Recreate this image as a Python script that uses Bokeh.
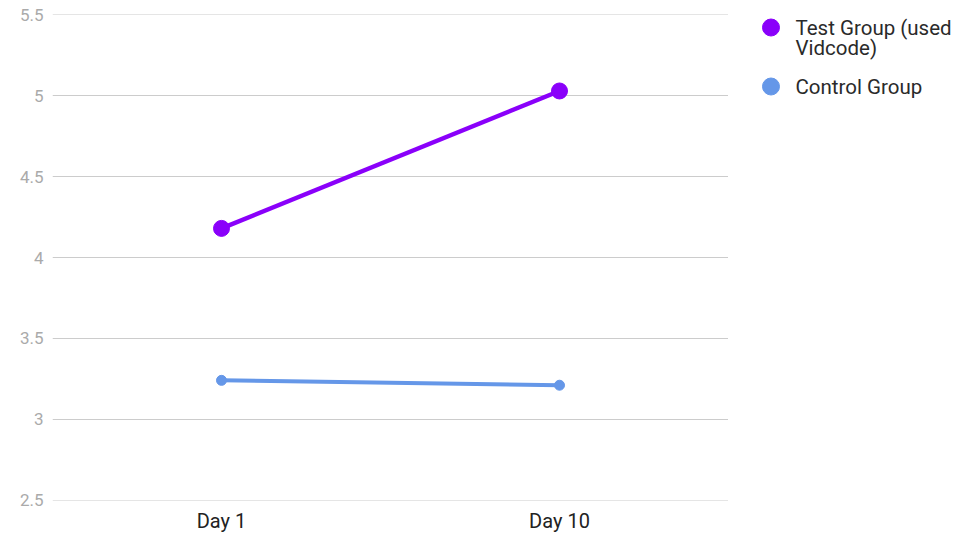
from bokeh.plotting import figure
from bokeh.models import FixedTicker, Range1d
from bokeh.layouts import row
from bokeh.core.properties import value
from bokeh.embed import file_html
from bokeh.resources import INLINE

days = ["Day 1", "Day 10"]
test_group = [4.18, 5.03]
control_group = [3.24, 3.21]
y_ticks = [2.5, 3, 3.5, 4, 4.5, 5, 5.5]
series_names = ["Test Group (used", "Vidcode)", "Control Group"]

TEST_COLOR = "#8a00fa"
CTRL_COLOR = "#6597e8"
FONT = "Roboto"

FRAME_TOP, FRAME_H = 14, 486

p = figure(x_range=days, y_range=(2.497, 5.503), frame_width=676, frame_height=FRAME_H,
           output_backend="svg", toolbar_location=None,
           min_border_left=52, min_border_top=FRAME_TOP, min_border_bottom=0, min_border_right=0)

p.line(days, test_group, line_color=TEST_COLOR, line_width=4.5)
p.scatter(days, test_group, size=16, fill_color=TEST_COLOR, line_color=TEST_COLOR)
p.line(days, control_group, line_color=CTRL_COLOR, line_width=4)
p.scatter(days, control_group, size=10, fill_color=CTRL_COLOR, line_color=CTRL_COLOR)

p.outline_line_color = None
p.xgrid.grid_line_color = None
p.ygrid.grid_line_color = "#cccccc"
p.ygrid.grid_line_width = 1
p.yaxis.ticker = FixedTicker(ticks=y_ticks)

for ax in (p.xaxis, p.yaxis):
    ax.axis_line_color = None
    ax.major_tick_line_color = None
    ax.minor_tick_line_color = None
    ax.major_tick_out = 0
    ax.major_tick_in = 0
    ax.minor_tick_out = 0

p.yaxis.major_label_text_color = "#aaaaaa"
p.yaxis.major_label_text_font = FONT
p.yaxis.major_label_text_font_size = "17px"
p.yaxis.major_label_standoff = 9

p.xaxis.major_label_text_color = "#222222"
p.xaxis.major_label_text_font = FONT
p.xaxis.major_label_text_font_size = "20px"
p.xaxis.major_label_standoff = 8

# legend panel: data coordinates are page pixels (y downwards), frame aligned with main frame
LW = 235
leg = figure(frame_width=LW, frame_height=FRAME_H, x_range=Range1d(0, LW),
             y_range=Range1d(FRAME_TOP + FRAME_H, FRAME_TOP),
             output_backend="svg", toolbar_location=None, title=None,
             x_axis_location=None, y_axis_location=None,
             min_border=0, min_border_left=0, min_border_right=0,
             min_border_top=0, min_border_bottom=0)
leg.outline_line_color = None
leg.xgrid.grid_line_color = None
leg.ygrid.grid_line_color = None

leg.scatter([42.5], [27], size=17, fill_color=TEST_COLOR, line_color=TEST_COLOR)
leg.scatter([42.5], [86], size=17, fill_color=CTRL_COLOR, line_color=CTRL_COLOR)
leg.text(x=[67, 67, 67], y=[27, 47, 86], text=series_names,
         text_font=value(FONT), text_font_size="20.5px", text_color="#2a2a2a",
         text_baseline="middle", text_align="left")

layout = row(p, leg)
open("out.html", "w").write(file_html(layout, INLINE))
